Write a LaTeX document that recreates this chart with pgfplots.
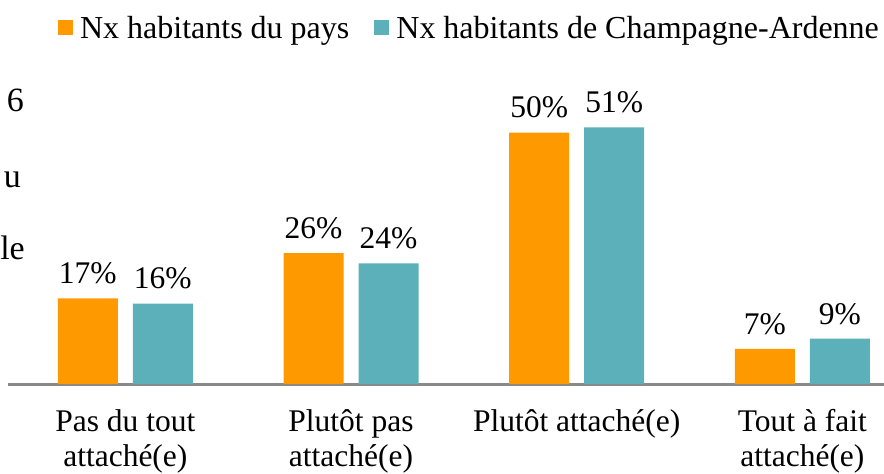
\documentclass[border=0pt]{standalone}
\usepackage{pgfplots}
\pgfplotsset{compat=1.18}
\usepackage{fontspec}
\setmainfont{Liberation Serif}
\definecolor{orangebar}{RGB}{255,153,0}
\definecolor{tealbar}{RGB}{91,176,186}
\definecolor{axisgray}{RGB}{137,137,137}
\newcommand{\chartfont}{\fontsize{31.5}{35.5}\selectfont}
\begin{document}
\begin{tikzpicture}
\useasboundingbox (0pt,0pt) rectangle (884pt,474pt);
\clip (0pt,0pt) rectangle (884pt,474pt);
\node[anchor=base east, font=\fontsize{34}{38}\selectfont, inner sep=0pt] at (24pt,362pt) {6};
\node[anchor=base east, font=\fontsize{34}{38}\selectfont, inner sep=0pt] at (21pt,286pt) {u};
\node[anchor=base east, font=\fontsize{34}{38}\selectfont, inner sep=0pt] at (25pt,214pt) {le};
\begin{axis}[
  at={(8pt,90pt)}, anchor=south west,
  scale only axis, width=875.6pt, height=301.8pt,
  xmin=-0.52, xmax=3.36, ymin=0, ymax=60,
  ybar=15pt, bar width=60pt,
  axis x line*=bottom, axis y line=none,
  x axis line style={draw=axisgray, line width=3pt, -},
  xtick={0,1,2,3},
  xticklabels={{Pas du tout\\attaché(e)},{Plutôt pas\\attaché(e)},{Plutôt attaché(e)},{Tout à fait\\attaché(e)}},
  major tick length=0pt, xtick style={draw=none},
  xticklabel style={align=center, font=\chartfont, inner sep=0pt, anchor=north, yshift=-25pt},
  /pgf/number format/assume math mode=true,
  nodes near coords={\pgfmathprintnumber{\pgfplotspointmeta}\%},
  every node near coord/.append style={font=\chartfont, anchor=south, inner sep=0pt, yshift=14pt, text=black},
  clip=false,
  legend style={draw=none, fill=none, at={(0.057,1.18)}, anchor=west, legend columns=-1,
    font=\fontsize{32}{36}\selectfont, inner sep=0pt,
    nodes={inner sep=0pt},
    /tikz/every odd column/.append style={column sep=7pt},
    /tikz/every even column/.append style={column sep=25pt}},
  legend image code/.code={\fill[#1] (0pt,-7.5pt) rectangle (15pt,7.5pt);},
]
\addplot[fill=orangebar, draw=none] coordinates {(0,17) (1,26) (2,50) (3,7)};
\addplot[fill=tealbar, draw=none] coordinates {(0,16) (1,24) (2,51) (3,9)};
\legend{Nx habitants du pays, Nx habitants de Champagne-Ardenne}
\end{axis}
\end{tikzpicture}
\end{document}
